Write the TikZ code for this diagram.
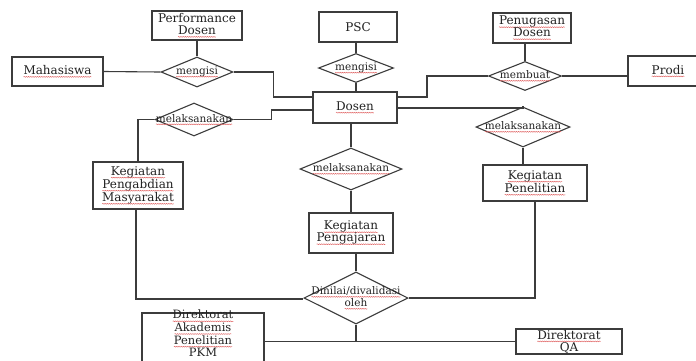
\documentclass[tikz,border=0pt]{standalone}
\usepackage{fontspec}
\setmainfont{DejaVu Serif}
\usetikzlibrary{shapes.geometric,decorations.pathmorphing}
\definecolor{lc}{HTML}{3C3C3C}
\definecolor{tc}{HTML}{222222}
\definecolor{sqc}{HTML}{E06060}
\newcommand\sq[1]{\tikz[baseline=(sqw.base)]{\node[shape=rectangle,draw=none,fill=none,inner sep=0pt,outer sep=0pt,minimum size=0pt](sqw){#1};\draw[sqc,line width=0.45pt,decorate,decoration={snake,amplitude=0.45pt,segment length=2.2pt}]([yshift=-2.3pt]sqw.base west)--([yshift=-2.3pt]sqw.base east);}}
\begin{document}
\begin{tikzpicture}[x=1pt,y=-1pt,
  ent/.style={draw=lc,line width=1.1pt,shape=rectangle,inner sep=0pt,align=center,text=tc,font=\fontsize{12}{12}\selectfont},
  rel/.style={draw=lc,line width=1.1pt,shape=diamond,inner sep=0pt},
  rtext/.style={inner sep=0pt,align=center,text=tc,font=\fontsize{10.5}{10.5}\selectfont},
  etext/.style={inner sep=0pt,align=center,text=tc,font=\fontsize{11.5}{10.6}\selectfont},
  con/.style={draw=lc,line width=1.1pt}]
\clip (0,0) rectangle (696,360);
\fill[white] (0,0) rectangle (696,360);
% entities
\node[ent,minimum width=90pt,minimum height=29pt] (perf) at (197,25.5) {Performance\\\sq{Dosen}};
\node[ent,minimum width=78pt,minimum height=30pt] (psc) at (358,27) {PSC};
\node[ent,minimum width=78pt,minimum height=30pt] (penug) at (532,28) {\sq{Penugasan}\\\sq{Dosen}};
\node[ent,minimum width=91pt,minimum height=29pt] (mhs) at (57.5,71.5) {\sq{Mahasiswa}};
\node[ent,minimum width=80pt,minimum height=30pt] (prodi) at (668,71) {\sq{Prodi}};
\node[ent,minimum width=84pt,minimum height=31pt] (dosen) at (355,107.5) {\sq{Dosen}};
\node[ent,minimum width=90pt,minimum height=47pt] (pengab) at (138,185.5) {\sq{Kegiatan}\\\sq{Pengabdian}\\\sq{Masyarakat}};
\node[ent,minimum width=104pt,minimum height=36pt] (penel) at (535,183) {\sq{Kegiatan}\\\sq{Penelitian}};
\node[ent,minimum width=84pt,minimum height=40pt] (pengaj) at (351,233) {\sq{Kegiatan}\\\sq{Pengajaran}};
\node[ent,minimum width=122pt,minimum height=54pt] (dirak) at (203,340) {};
\node[etext] (dirakt) at (203,333.5) {\sq{Direktorat}\\\sq{Akademis}\\\sq{Penelitian}\\PKM};
\node[ent,minimum width=106pt,minimum height=25pt] (dirqa) at (569,341.5) {\sq{Direktorat}\\QA};
% relationships
\node[rel,minimum width=72pt,minimum height=30pt] (mgL) at (197,72) {};
\node[rtext] (mgLt) at (mgL) {\sq{mengisi}};
\node[rel,minimum width=75pt,minimum height=29pt] (mgC) at (356,68) {};
\node[rtext] (mgCt) at (mgC) {\sq{mengisi}};
\node[rel,minimum width=73pt,minimum height=29pt] (mbt) at (525,76) {};
\node[rtext] (mbtt) at (mbt) {\sq{membuat}};
\node[rel,minimum width=78pt,minimum height=33pt] (mlL) at (194,119.5) {};
\node[rtext] (mlLt) at (mlL) {\sq{melaksanakan}};
\node[rel,minimum width=102pt,minimum height=42pt] (mlC) at (351,169) {};
\node[rtext] (mlCt) at (mlC) {\sq{melaksanakan}};
\node[rel,minimum width=94pt,minimum height=40pt] (mlR) at (523,127) {};
\node[rtext] (mlRt) at (mlR) {\sq{melaksanakan}};
\node[rel,minimum width=104pt,minimum height=52pt] (dnl) at (356,298) {};
\node[rtext] (dnlt) at (dnl) {\sq{Dinilai/divalidasi}\\\sq{oleh}};
% connectors
\draw[con] (mhs.east) -- (mgL.west);
\draw[con] (perf.south) -- (mgL.north);
\draw[con] (mgL.east) -- ++(40,0) |- ([yshift=10.5pt]dosen.west);
\draw[con] (mgC.north) -- (mgC.north |- psc.south);
\draw[con] (mgC.south) -- (mgC.south |- dosen.north);
\draw[con] (mbt.north) -- (mbt.north |- penug.south);
\draw[con] (mbt.east) -- (mbt.east -| prodi.west);
\draw[con] (mbt.west) -- ++(-61,0) |- ([yshift=10.5pt]dosen.east);
\draw[con] ([yshift=-0.5pt]dosen.east) -| (mlR.north);
\draw[con] (mlR.south) -- (mlR.south |- penel.north);
\draw[con] (penel.south) |- (dnl.east);
\draw[con] (mlC.north) -- (mlC.north |- dosen.south);
\draw[con] (mlC.south) -- (mlC.south |- pengaj.north);
\draw[con] (dnl.north) -- (dnl.north |- pengaj.south);
\draw[con] ([yshift=-2.5pt]dosen.west) -- ++(-41,0) |- (mlL.east);
\draw[con] (mlL.west) -| (pengab.north);
\draw[con] ([xshift=-2pt]pengab.south) |- ([yshift=-1pt]dnl.west);
\coordinate (j) at (dnl.south |- dirqa.west);
\draw[con] (dnl.south) -- (j);
\draw[con] (dirak.east |- j) -- (dirqa.west);
\end{tikzpicture}
\end{document}
